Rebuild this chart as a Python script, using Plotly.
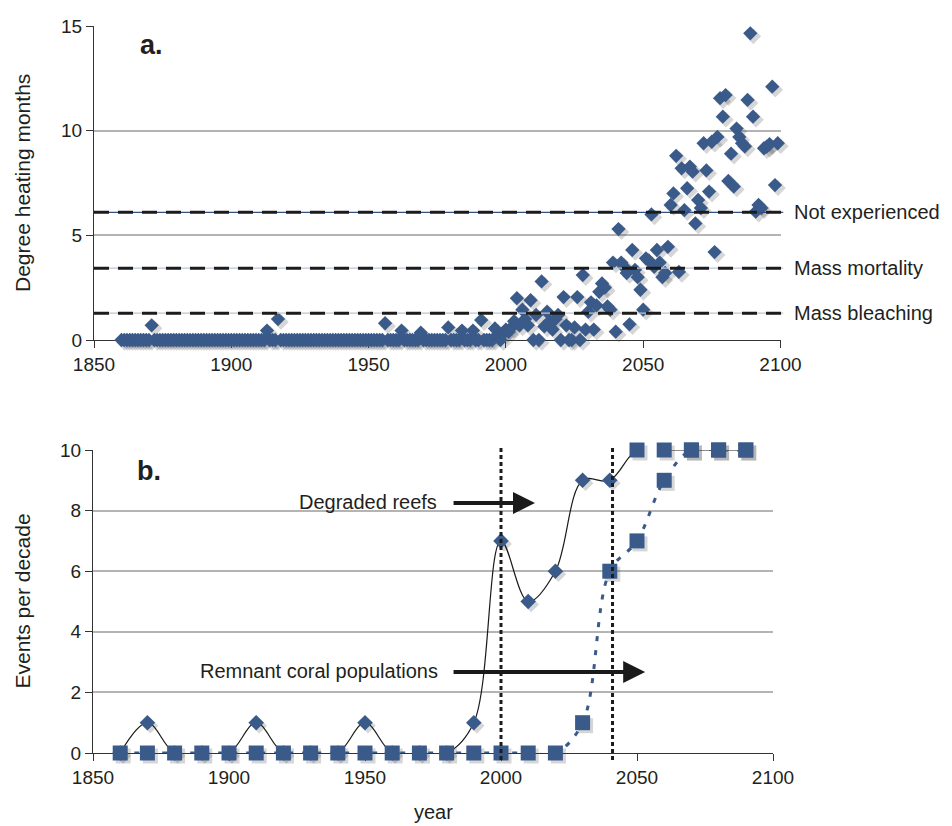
import plotly.graph_objects as go

# ---------------- data ----------------
years_a = list(range(1860, 2100))
dhm = [
    0, 0, 0, 0, 0, 0, 0, 0, 0, 0,            # 1860s
    0, 0.7, 0, 0, 0, 0, 0, 0, 0, 0,          # 1870s
    0, 0, 0, 0, 0, 0, 0, 0, 0, 0,            # 1880s
    0, 0, 0, 0, 0, 0, 0, 0, 0, 0,            # 1890s
    0, 0, 0, 0, 0, 0, 0, 0, 0, 0,            # 1900s
    0, 0, 0, 0.45, 0, 0, 0, 1.0, 0, 0,       # 1910s
    0, 0, 0, 0, 0, 0, 0, 0, 0, 0,            # 1920s
    0, 0, 0, 0, 0, 0, 0, 0, 0, 0,            # 1930s
    0, 0, 0, 0, 0, 0, 0, 0, 0, 0,            # 1940s
    0, 0, 0, 0, 0, 0, 0.8, 0, 0, 0,          # 1950s
    0, 0, 0.45, 0, 0, 0, 0, 0, 0, 0.35,      # 1960s
    0, 0, 0, 0, 0, 0, 0, 0, 0, 0.6,          # 1970s
    0, 0, 0, 0, 0.45, 0, 0, 0, 0.45, 0,      # 1980s
    0, 0.95, 0, 0, 0, 0, 0.55, 0.2, 0, 0.3,  # 1990s
    0.5, 0.4, 0.6, 0.9, 2.0, 0.7, 1.45, 1.0, 0.7, 1.9,        # 2000s
    0, 1.2, 0, 2.8, 0.65, 1.35, 0.9, 0.5, 1.0, 1.2,           # 2010s
    0, 2.05, 0.7, 0, 0, 0.6, 2.05, 0, 3.1, 0.5,               # 2020s
    1.35, 1.8, 0.5, 1.65, 2.3, 2.7, 2.5, 1.6, 1.45, 3.7,      # 2030s
    0.4, 5.3, 3.7, 3.5, 3.2, 0.75, 4.3, 3.35, 3.0, 2.4,       # 2040s
    1.45, 3.9, 3.8, 6.0, 3.5, 4.3, 3.7, 3.0, 3.2, 4.45,       # 2050s
    6.45, 7.0, 8.8, 3.25, 8.2, 6.2, 7.25, 8.28, 8.04, 5.57,   # 2060s
    6.69, 6.3, 9.4, 8.1, 7.09, 9.47, 4.2, 9.7, 11.55, 10.67,  # 2070s
    11.7, 7.6, 8.9, 7.33, 10.1, 9.7, 9.4, 9.25, 11.47, 14.65, # 2080s
    10.67, 6.13, 6.45, 6.3, 9.16, 9.24, 9.35, 12.1, 7.4, 9.4, # 2090s
]
thresholds = [6.1, 3.43, 1.28]
threshold_labels = ["Not experienced", "Mass mortality", "Mass bleaching"]
threshold_under_colors = ["#2f4f86", "#b9c4d6", "#b9c4d6"]

decades = [1860, 1870, 1880, 1890, 1900, 1910, 1920, 1930, 1940, 1950, 1960, 1970,
           1980, 1990, 2000, 2010, 2020, 2030, 2040, 2050, 2060, 2070, 2080, 2090]
degraded = [0, 1, 0, 0, 0, 1, 0, 0, 0, 1, 0, 0, 0, 1, 7, 5, 6, 9, 9, 10, 10, 10, 10, 10]
remnant = [0, 0, 0, 0, 0, 0, 0, 0, 0, 0, 0, 0, 0, 0, 0, 0, 0, 1, 6, 7, 9, 10, 10, 10]

marker_years = [2000, 2041]
marker_labels = ["X", "Y"]

arrow_labels = ["Degraded reefs", "Remnant coral populations"]
arrow_start = [1982, 1982]
arrow_end = [2012.5, 2053]
arrow_level = [8.25, 2.67]
label_end = [1977.2, 1977.6]

# ---------------- style ----------------
# the page body adds an 8px offset, so the figure is 8px smaller than the window
W, H = 944, 818
NAVY = "#3a5a8a"
SHADOW = "rgba(70,70,70,0.22)"
TXT = "#231f20"
GRID = "#b4b4b4"
FONT = "Liberation Sans, Arial, sans-serif"
xdom_top = [86, 772.5]
xdom_bot = [85, 765]
ydom_top = [332, 18]
ydom_bot = [745, 442]
SH_DX, SH_DY = 3, 3   # drop-shadow offset in px


def xd(px, dx=0):
    return [(px[0] + dx) / W, (px[1] + dx) / W]


def yd(px, dy=0):
    return [1 - (px[0] + dy) / H, 1 - (px[1] + dy) / H]


diamond_sym = ["square" if v >= 10 else "diamond" for v in degraded]
diamond_size = [15 if v >= 10 else 12 for v in degraded]

fig = go.Figure()

# --- drop shadows (hidden axes offset by a few pixels) ---
fig.add_trace(go.Scatter(
    x=years_a, y=dhm, mode="markers", xaxis="x3", yaxis="y3",
    marker=dict(symbol="diamond", size=12, color=SHADOW, opacity=1, line=dict(width=0)),
    cliponaxis=False, showlegend=False, hoverinfo="skip"))
fig.add_trace(go.Scatter(
    x=decades, y=degraded, mode="markers", xaxis="x4", yaxis="y4",
    marker=dict(symbol=diamond_sym, size=diamond_size, color=SHADOW, opacity=1, line=dict(width=0)),
    cliponaxis=False, showlegend=False, hoverinfo="skip"))
fig.add_trace(go.Scatter(
    x=decades, y=remnant, mode="markers", xaxis="x4", yaxis="y4",
    marker=dict(symbol="square", size=15, color=SHADOW, opacity=1, line=dict(width=0)),
    cliponaxis=False, showlegend=False, hoverinfo="skip"))

# --- real series ---
fig.add_trace(go.Scatter(
    x=years_a, y=dhm, mode="markers", xaxis="x5", yaxis="y5",
    marker=dict(symbol="diamond", size=11, color=NAVY, opacity=1, line=dict(width=0)),
    cliponaxis=False, showlegend=False, hoverinfo="x+y"))

fig.add_trace(go.Scatter(
    x=decades, y=degraded, mode="lines+markers", xaxis="x6", yaxis="y6",
    line=dict(color="#1a1a1a", width=1.2, shape="spline", smoothing=1),
    marker=dict(symbol=diamond_sym, size=diamond_size, color=NAVY, opacity=1, line=dict(width=0)),
    cliponaxis=False, showlegend=False))

fig.add_trace(go.Scatter(
    x=decades, y=remnant, mode="lines+markers", xaxis="x6", yaxis="y6",
    line=dict(color=NAVY, width=3, shape="spline", smoothing=1, dash="5px,9px"),
    marker=dict(symbol="square", size=15, color=NAVY, opacity=1, line=dict(width=0)),
    cliponaxis=False, showlegend=False))

shapes = []
annotations = []

for v, lab, uc in zip(thresholds, threshold_labels, threshold_under_colors):
    shapes.append(dict(type="line", xref="x domain", yref="y", x0=0, x1=1.004, y0=v, y1=v,
                       line=dict(color=uc, width=1.2)))
    shapes.append(dict(type="line", xref="x domain", yref="y", x0=0, x1=1.004, y0=v, y1=v,
                       line=dict(color="#1c1c1c", width=3, dash="15px,9px")))
    annotations.append(dict(xref="x domain", yref="y", x=1.0165, y=v, text=lab, showarrow=False,
                            xanchor="left", yanchor="middle", font=dict(size=20, color=TXT)))

for xv, lab in zip(marker_years, marker_labels):
    shapes.append(dict(type="line", xref="x2", yref="y2 domain", x0=xv, x1=xv, y0=-0.023, y1=1.007,
                       line=dict(color="#1c1c1c", width=3, dash="4px,3px")))
    annotations.append(dict(xref="x2", yref="y2", x=xv, y=10.5, text=lab, showarrow=False,
                            xanchor="center", yanchor="middle", font=dict(size=20, color=NAVY)))

for lab, a0, a1, lv, le in zip(arrow_labels, arrow_start, arrow_end, arrow_level, label_end):
    annotations.append(dict(xref="x2", yref="y2", axref="x2", ayref="y2", x=a1, y=lv, ax=a0, ay=lv,
                            text="", showarrow=True, arrowhead=2, arrowsize=1.1, arrowwidth=4,
                            arrowcolor="#1a1a1a"))
    annotations.append(dict(xref="x2", yref="y2", x=le, y=lv + 0.05, text=lab, showarrow=False,
                            xanchor="right", yanchor="middle", font=dict(size=20, color=TXT)))

# panel letters
annotations.append(dict(xref="x", yref="y", x=1871, y=14.1, text="<b>a.</b>", showarrow=False,
                        font=dict(size=27, color=TXT)))
annotations.append(dict(xref="x2", yref="y2", x=1870.5, y=9.3, text="<b>b.</b>", showarrow=False,
                        font=dict(size=27, color=TXT)))

# axis titles
annotations.append(dict(xref="paper", yref="y domain", x=14 / W, y=0.5, text="Degree heating months",
                        textangle=-90, showarrow=False, xanchor="center", yanchor="middle",
                        font=dict(size=21, color=TXT)))
annotations.append(dict(xref="paper", yref="y2 domain", x=14 / W, y=0.5, text="Events per decade",
                        textangle=-90, showarrow=False, xanchor="center", yanchor="middle",
                        font=dict(size=21, color=TXT)))
annotations.append(dict(xref="x2 domain", yref="paper", x=0.5, y=1 - 804 / H, text="year",
                        showarrow=False, xanchor="center", yanchor="middle",
                        font=dict(size=20, color=TXT)))

xcommon = dict(range=[1850, 2100], tickvals=[1850, 1900, 1950, 2000, 2050, 2100],
               ticks="outside", ticklen=7, tickcolor="#333", showline=True, linecolor="#333",
               linewidth=1.2, showgrid=False, zeroline=False, tickfont=dict(size=19, color=TXT),
               automargin=False)
ycommon = dict(ticks="outside", ticklen=7, tickcolor="#333", showline=True, linecolor="#333",
               linewidth=1.2, showgrid=True, gridcolor=GRID, gridwidth=1.5, zeroline=False,
               tickfont=dict(size=19, color=TXT), automargin=False)
hidden = dict(visible=False, showgrid=False, zeroline=False, automargin=False, fixedrange=True)

fig.update_layout(
    width=W, height=H, margin=dict(l=0, r=0, t=0, b=0, pad=0, autoexpand=False),
    paper_bgcolor="white", plot_bgcolor="rgba(0,0,0,0)",
    font=dict(family=FONT, color=TXT),
    xaxis=dict(anchor="y", domain=xd(xdom_top), **xcommon),
    yaxis=dict(anchor="x", domain=yd(ydom_top), range=[0, 15], dtick=5, **ycommon),
    xaxis2=dict(anchor="y2", domain=xd(xdom_bot), **xcommon),
    yaxis2=dict(anchor="x2", domain=yd(ydom_bot), range=[0, 10], dtick=2, **ycommon),
    # shadow axes (shifted right/down)
    xaxis3=dict(anchor="y3", domain=xd(xdom_top, SH_DX), range=[1850, 2100], **hidden),
    yaxis3=dict(anchor="x3", domain=yd(ydom_top, SH_DY), range=[0, 15], **hidden),
    xaxis4=dict(anchor="y4", domain=xd(xdom_bot, SH_DX), range=[1850, 2100], **hidden),
    yaxis4=dict(anchor="x4", domain=yd(ydom_bot, SH_DY), range=[0, 10], **hidden),
    # data axes (identical to the visible ones)
    xaxis5=dict(anchor="y5", domain=xd(xdom_top), range=[1850, 2100], **hidden),
    yaxis5=dict(anchor="x5", domain=yd(ydom_top), range=[0, 15], **hidden),
    xaxis6=dict(anchor="y6", domain=xd(xdom_bot), range=[1850, 2100], **hidden),
    yaxis6=dict(anchor="x6", domain=yd(ydom_bot), range=[0, 10], **hidden),
    shapes=shapes, annotations=annotations,
)

fig.write_html("out.html")
